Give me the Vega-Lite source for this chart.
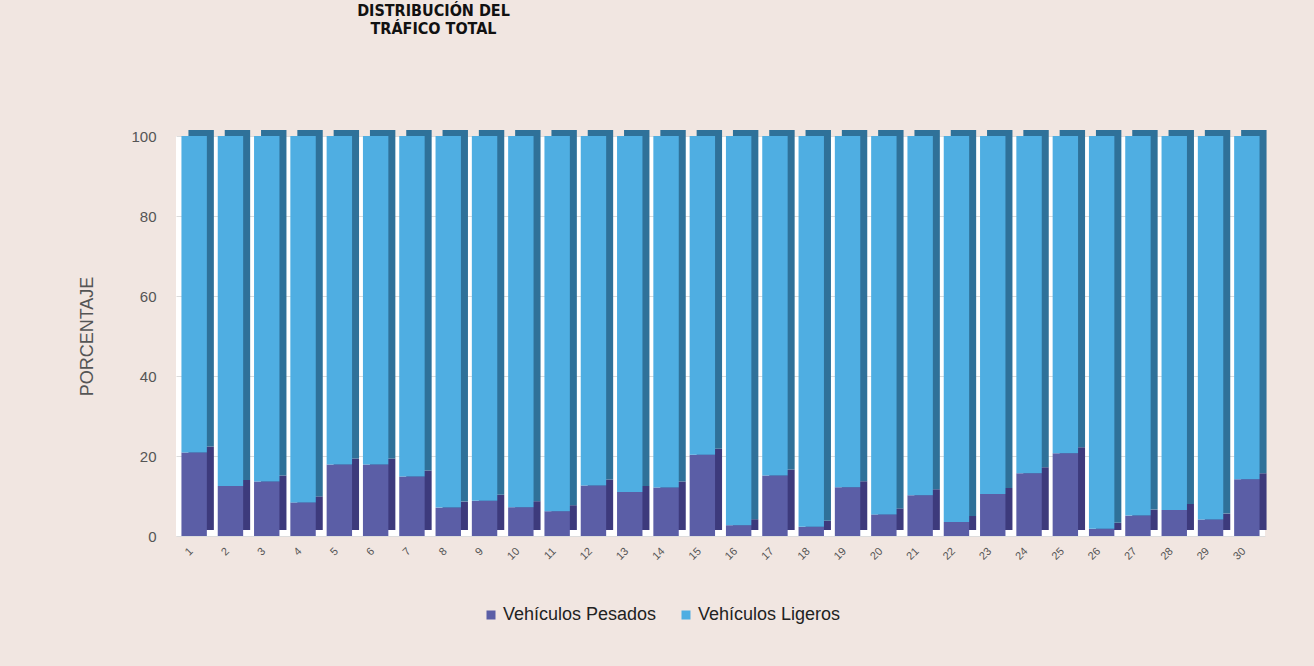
{
  "$schema": "https://vega.github.io/schema/vega-lite/v6.json",
  "autosize": "none",
  "width": 1089,
  "height": 400,
  "padding": {"left": 176, "top": 136, "right": 49, "bottom": 130},
  "background": "#f1e6e1",
  "title": {
    "text": ["DISTRIBUCIÓN DEL", "TRÁFICO TOTAL"],
    "anchor": "middle",
    "dx": -287,
    "offset": 92,
    "font": "DejaVu Sans Condensed",
    "fontWeight": "bold",
    "fontSize": 16,
    "lineHeight": 18,
    "color": "#111111"
  },
  "config": {
    "view": {"fill": "#ffffff", "stroke": null},
    "font": "Liberation Sans"
  },
  "data": {
    "values": [
      {"punto": 1, "tipo": "Vehículos Pesados", "pct": 20.9}, {"punto": 1, "tipo": "Vehículos Ligeros", "pct": 79.1},
      {"punto": 2, "tipo": "Vehículos Pesados", "pct": 12.5}, {"punto": 2, "tipo": "Vehículos Ligeros", "pct": 87.5},
      {"punto": 3, "tipo": "Vehículos Pesados", "pct": 13.6}, {"punto": 3, "tipo": "Vehículos Ligeros", "pct": 86.4},
      {"punto": 4, "tipo": "Vehículos Pesados", "pct": 8.4}, {"punto": 4, "tipo": "Vehículos Ligeros", "pct": 91.6},
      {"punto": 5, "tipo": "Vehículos Pesados", "pct": 17.9}, {"punto": 5, "tipo": "Vehículos Ligeros", "pct": 82.1},
      {"punto": 6, "tipo": "Vehículos Pesados", "pct": 17.9}, {"punto": 6, "tipo": "Vehículos Ligeros", "pct": 82.1},
      {"punto": 7, "tipo": "Vehículos Pesados", "pct": 14.9}, {"punto": 7, "tipo": "Vehículos Ligeros", "pct": 85.1},
      {"punto": 8, "tipo": "Vehículos Pesados", "pct": 7.1}, {"punto": 8, "tipo": "Vehículos Ligeros", "pct": 92.9},
      {"punto": 9, "tipo": "Vehículos Pesados", "pct": 8.8}, {"punto": 9, "tipo": "Vehículos Ligeros", "pct": 91.2},
      {"punto": 10, "tipo": "Vehículos Pesados", "pct": 7.2}, {"punto": 10, "tipo": "Vehículos Ligeros", "pct": 92.8},
      {"punto": 11, "tipo": "Vehículos Pesados", "pct": 6.2}, {"punto": 11, "tipo": "Vehículos Ligeros", "pct": 93.8},
      {"punto": 12, "tipo": "Vehículos Pesados", "pct": 12.6}, {"punto": 12, "tipo": "Vehículos Ligeros", "pct": 87.4},
      {"punto": 13, "tipo": "Vehículos Pesados", "pct": 11.0}, {"punto": 13, "tipo": "Vehículos Ligeros", "pct": 89.0},
      {"punto": 14, "tipo": "Vehículos Pesados", "pct": 12.1}, {"punto": 14, "tipo": "Vehículos Ligeros", "pct": 87.9},
      {"punto": 15, "tipo": "Vehículos Pesados", "pct": 20.3}, {"punto": 15, "tipo": "Vehículos Ligeros", "pct": 79.7},
      {"punto": 16, "tipo": "Vehículos Pesados", "pct": 2.7}, {"punto": 16, "tipo": "Vehículos Ligeros", "pct": 97.3},
      {"punto": 17, "tipo": "Vehículos Pesados", "pct": 15.1}, {"punto": 17, "tipo": "Vehículos Ligeros", "pct": 84.9},
      {"punto": 18, "tipo": "Vehículos Pesados", "pct": 2.3}, {"punto": 18, "tipo": "Vehículos Ligeros", "pct": 97.7},
      {"punto": 19, "tipo": "Vehículos Pesados", "pct": 12.2}, {"punto": 19, "tipo": "Vehículos Ligeros", "pct": 87.8},
      {"punto": 20, "tipo": "Vehículos Pesados", "pct": 5.4}, {"punto": 20, "tipo": "Vehículos Ligeros", "pct": 94.6},
      {"punto": 21, "tipo": "Vehículos Pesados", "pct": 10.2}, {"punto": 21, "tipo": "Vehículos Ligeros", "pct": 89.8},
      {"punto": 22, "tipo": "Vehículos Pesados", "pct": 3.5}, {"punto": 22, "tipo": "Vehículos Ligeros", "pct": 96.5},
      {"punto": 23, "tipo": "Vehículos Pesados", "pct": 10.5}, {"punto": 23, "tipo": "Vehículos Ligeros", "pct": 89.5},
      {"punto": 24, "tipo": "Vehículos Pesados", "pct": 15.7}, {"punto": 24, "tipo": "Vehículos Ligeros", "pct": 84.3},
      {"punto": 25, "tipo": "Vehículos Pesados", "pct": 20.7}, {"punto": 25, "tipo": "Vehículos Ligeros", "pct": 79.3},
      {"punto": 26, "tipo": "Vehículos Pesados", "pct": 1.8}, {"punto": 26, "tipo": "Vehículos Ligeros", "pct": 98.2},
      {"punto": 27, "tipo": "Vehículos Pesados", "pct": 5.1}, {"punto": 27, "tipo": "Vehículos Ligeros", "pct": 94.9},
      {"punto": 28, "tipo": "Vehículos Pesados", "pct": 6.5}, {"punto": 28, "tipo": "Vehículos Ligeros", "pct": 93.5},
      {"punto": 29, "tipo": "Vehículos Pesados", "pct": 4.1}, {"punto": 29, "tipo": "Vehículos Ligeros", "pct": 95.9},
      {"punto": 30, "tipo": "Vehículos Pesados", "pct": 14.2}, {"punto": 30, "tipo": "Vehículos Ligeros", "pct": 85.8}
    ]
  },
  "encoding": {
    "x": {
      "field": "punto",
      "type": "ordinal",
      "scale": {"paddingInner": 0.3, "paddingOuter": 0.15},
      "axis": {
        "title": null,
        "labelAngle": -45,
        "labelFontSize": 11,
        "labelColor": "#555555",
        "labelPadding": 9,
        "labelOffset": -7,
        "ticks": false,
        "domain": false
      }
    },
    "y": {
      "field": "pct",
      "type": "quantitative",
      "stack": "zero",
      "scale": {"domain": [0, 100], "nice": false},
      "axis": {
        "title": "PORCENTAJE",
        "titleFontSize": 18,
        "titleFontWeight": "normal",
        "titleColor": "#555555",
        "titlePadding": 34,
        "values": [0, 20, 40, 60, 80, 100],
        "labelFontSize": 15,
        "labelColor": "#555555",
        "labelPadding": 20,
        "ticks": false,
        "domain": false,
        "gridColor": "#dcdcdc"
      }
    },
    "order": {"field": "tipo", "sort": "descending"}
  },
  "layer": [
    {
      "mark": {"type": "bar", "xOffset": 7, "yOffset": -6, "y2Offset": -6},
      "encoding": {
        "color": {
          "field": "tipo",
          "type": "nominal",
          "scale": {"domain": ["Vehículos Pesados", "Vehículos Ligeros"], "range": ["#3d3a7c", "#2f7199"]},
          "legend": null
        }
      }
    },
    {
      "mark": {"type": "bar"},
      "encoding": {
        "color": {
          "field": "tipo",
          "type": "nominal",
          "scale": {"domain": ["Vehículos Pesados", "Vehículos Ligeros"], "range": ["#5b5ea6", "#4faee2"]},
          "legend": {
            "title": null,
            "orient": "none",
            "direction": "horizontal",
            "legendX": 306,
            "legendY": 470,
            "symbolType": "square",
            "symbolSize": 81,
            "symbolStrokeWidth": 0,
            "labelFontSize": 18,
            "labelColor": "#222222",
            "labelOffset": 3,
            "columnPadding": 20
          }
        }
      }
    }
  ],
  "resolve": {"scale": {"color": "independent"}}
}
